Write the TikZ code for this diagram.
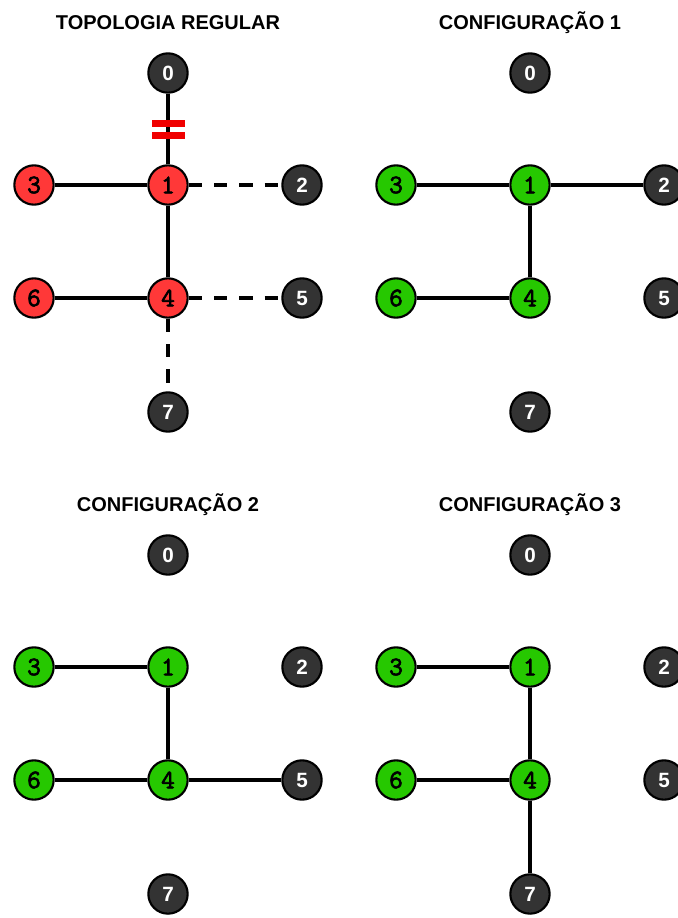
\documentclass[tikz,border=0pt]{standalone}
\usepackage{fontspec}
\setmainfont{Liberation Sans}
\newfontfamily\digitfont[FakeBold=2.5]{Latin Modern Mono}
\usepackage{xcolor}
\definecolor{nodered}{RGB}{255,56,56}
\definecolor{nodegreen}{RGB}{38,200,0}
\definecolor{nodedark}{RGB}{51,51,51}
\definecolor{breakred}{RGB}{240,0,0}

\tikzset{
	host/.style={circle, draw=black, line width=1.6pt, minimum size=29.5pt, inner sep=0pt},
	darknode/.style={host, fill=nodedark, text=white, font=\bfseries\fontsize{15.5}{15.5}\selectfont},
	rednode/.style={host, fill=nodered, font=\digitfont\bfseries\fontsize{20}{20}\selectfont},
	greennode/.style={host, fill=nodegreen, font=\digitfont\bfseries\fontsize{20}{20}\selectfont},
	link/.style={line width=2.3pt, black},
	downlink/.style={link, line width=2.6pt, dash pattern=on 10pt off 9pt},
	paneltitle/.style={anchor=base, font=\bfseries\fontsize{15}{15}\selectfont}
}

\begin{document}
\begin{tikzpicture}[x=0.75pt, y=-0.75pt]
	\useasboundingbox (0,0) rectangle (678,918);
	
	% topologia regular
	\node[paneltitle] (title-t) at (168,29) {TOPOLOGIA REGULAR};
	\node[darknode] (t0) at (168,73) {0};
	\node[rednode] (t1) at (168,185) {1};
	\node[darknode] (t2) at (302,185) {2};
	\node[rednode] (t3) at (34,185) {3};
	\node[rednode] (t4) at (168,298) {4};
	\node[darknode] (t5) at (302,298) {5};
	\node[rednode] (t6) at (34,298) {6};
	\node[darknode] (t7) at (168,412) {7};
	
	\draw[link] (t0) -- (t1);
	\draw[link] (t3) -- (t1);
	\draw[link] (t1) -- (t4);
	\draw[link] (t6) -- (t4);
	\draw[downlink] (t1) -- (t2);
	\draw[downlink] (t4) -- (t5);
	\draw[downlink] (t4) -- (t7);
	
	% falha no enlace 0-1
	\fill[breakred] (151.5,119.5) rectangle (184.5,126.5);
	\fill[breakred] (151.5,131.5) rectangle (184.5,138.5);
	
	% configuracao 1
	\node[paneltitle] (title-a) at (530,29) {CONFIGURAÇÃO 1};
	\node[darknode] (a0) at (530,73) {0};
	\node[greennode] (a1) at (530,185) {1};
	\node[darknode] (a2) at (664,185) {2};
	\node[greennode] (a3) at (396,185) {3};
	\node[greennode] (a4) at (530,298) {4};
	\node[darknode] (a5) at (664,298) {5};
	\node[greennode] (a6) at (396,298) {6};
	\node[darknode] (a7) at (530,412) {7};
	
	\draw[link] (a3) -- (a1);
	\draw[link] (a1) -- (a2);
	\draw[link] (a1) -- (a4);
	\draw[link] (a6) -- (a4);
	
	% configuracao 2
	\node[paneltitle] (title-b) at (168,511) {CONFIGURAÇÃO 2};
	\node[darknode] (b0) at (168,555) {0};
	\node[greennode] (b1) at (168,667) {1};
	\node[darknode] (b2) at (302,667) {2};
	\node[greennode] (b3) at (34,667) {3};
	\node[greennode] (b4) at (168,780) {4};
	\node[darknode] (b5) at (302,780) {5};
	\node[greennode] (b6) at (34,780) {6};
	\node[darknode] (b7) at (168,894) {7};
	
	\draw[link] (b3) -- (b1);
	\draw[link] (b1) -- (b4);
	\draw[link] (b6) -- (b4);
	\draw[link] (b4) -- (b5);
	
	% configuracao 3
	\node[paneltitle] (title-c) at (530,511) {CONFIGURAÇÃO 3};
	\node[darknode] (c0) at (530,555) {0};
	\node[greennode] (c1) at (530,667) {1};
	\node[darknode] (c2) at (664,667) {2};
	\node[greennode] (c3) at (396,667) {3};
	\node[greennode] (c4) at (530,780) {4};
	\node[darknode] (c5) at (664,780) {5};
	\node[greennode] (c6) at (396,780) {6};
	\node[darknode] (c7) at (530,894) {7};
	
	\draw[link] (c3) -- (c1);
	\draw[link] (c1) -- (c4);
	\draw[link] (c6) -- (c4);
	\draw[link] (c4) -- (c7);
	
\end{tikzpicture}
\end{document}
